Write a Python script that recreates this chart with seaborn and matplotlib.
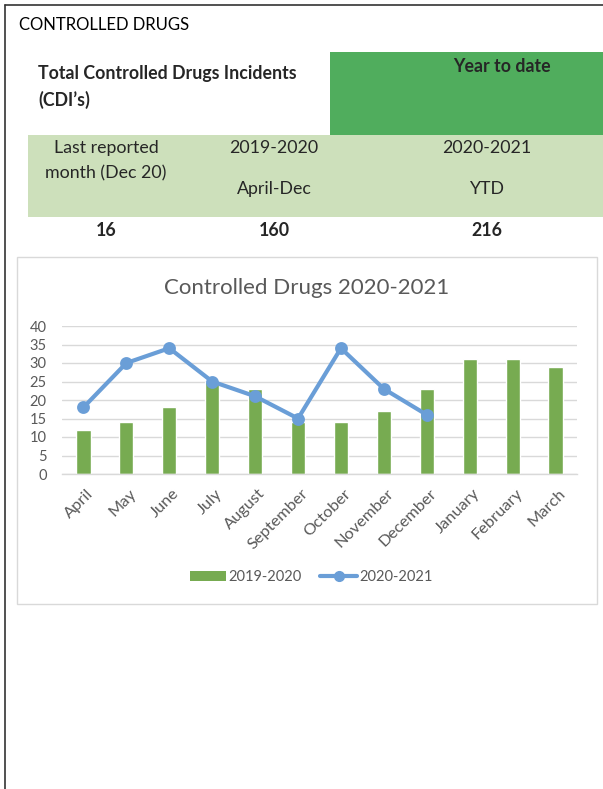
import matplotlib
matplotlib.use("Agg")
import matplotlib.pyplot as plt
import matplotlib.transforms as mtransforms
import seaborn as sns
import pandas as pd
from matplotlib.patches import Rectangle, Patch
from matplotlib.lines import Line2D

# ---- data -------------------------------------------------------------
months = ["April", "May", "June", "July", "August", "September",
          "October", "November", "December", "January", "February", "March"]
incidents_2019_20 = [12, 14, 18, 25, 23, 14, 14, 17, 23, 31, 31, 29]
incidents_2020_21 = [18, 30, 34, 25, 21, 15, 34, 23, 16]
series_names = ["2019-2020", "2020-2021"]
y_ticks = [0, 5, 10, 15, 20, 25, 30, 35, 40]
chart_title = "Controlled Drugs 2020-2021"

# headline figures for the summary table
last_month = incidents_2020_21[-1]
prev_ytd = sum(incidents_2019_20[:len(incidents_2020_21)])
curr_ytd = sum(incidents_2020_21)

# ---- styling ----------------------------------------------------------
sns.set_theme(style="white")
plt.rcParams["font.family"] = ["Lato", "DejaVu Sans"]

BAR = "#77AB51"
LINE = "#6A9ED7"
DARK_GREEN = "#50AD5D"
LIGHT_GREEN = "#CDE0BB"
GREY_TXT = "#595959"
GRID = "#D9D9D9"

W, H = 603, 789
fig = plt.figure(figsize=(W / 100, H / 100), dpi=100)


def fx(px):
    return px / W


def fy(py):
    return 1 - py / H


def box(x0, y0, x1, y1, **kw):
    fig.add_artist(Rectangle((fx(x0), fy(y1)), (x1 - x0) / W, (y1 - y0) / H,
                             transform=fig.transFigure, zorder=-1, **kw))


# page border (top and left)
fig.add_artist(Line2D([fx(5), fx(5)], [fy(5), fy(789)], transform=fig.transFigure,
                      color="#333333", lw=1.2))
fig.add_artist(Line2D([fx(5), fx(603)], [fy(5), fy(5)], transform=fig.transFigure,
                      color="#333333", lw=1.2))

# ---- summary table ----------------------------------------------------
box(330, 52, 603, 135, facecolor=DARK_GREEN, edgecolor="none")
box(28, 135, 603, 217, facecolor=LIGHT_GREEN, edgecolor="none")

HS = 12.8
fig.text(fx(19), fy(25), "CONTROLLED DRUGS", fontsize=12, va="center", color="black")
fig.text(fx(38), fy(73), "Total Controlled Drugs Incidents", fontsize=HS,
         fontweight="bold", va="center")
fig.text(fx(38), fy(100), "(CDI\u2019s)", fontsize=HS, fontweight="bold", va="center")
fig.text(fx(502), fy(66), "Year to date", fontsize=HS, fontweight="bold",
         ha="center", va="center")

fig.text(fx(106), fy(148), "Last reported", fontsize=HS, ha="center", va="center")
fig.text(fx(106), fy(173), "month (Dec 20)", fontsize=HS, ha="center", va="center")
fig.text(fx(274), fy(148), "2019-2020", fontsize=HS, ha="center", va="center")
fig.text(fx(274), fy(189), "April-Dec", fontsize=HS, ha="center", va="center")
fig.text(fx(487), fy(148), "2020-2021", fontsize=HS, ha="center", va="center")
fig.text(fx(487), fy(189), "YTD", fontsize=HS, ha="center", va="center")

for xc, val in [(106, last_month), (274, prev_ytd), (487, curr_ytd)]:
    fig.text(fx(xc), fy(230), str(val), fontsize=HS, fontweight="bold",
             ha="center", va="center")

# ---- chart ------------------------------------------------------------
box(17, 257, 597, 604, facecolor="white", edgecolor=GRID, lw=1)

fig.text(fx(307), fy(288), chart_title, fontsize=16, ha="center", va="center",
         color=GREY_TXT)

ax = fig.add_axes([fx(62), fy(474), (577 - 62) / W, (474 - 326) / H])
ax.set_zorder(2)
ax.set_facecolor("none")

sns.barplot(x=months, y=incidents_2019_20, color=BAR, saturation=1,
            width=0.33, ax=ax)

line_df = pd.DataFrame({"month": months[:len(incidents_2020_21)],
                        "count": incidents_2020_21})
sns.pointplot(data=line_df, x="month", y="count", order=months, color=LINE,
              errorbar=None, linewidth=3, markersize=7, ax=ax)

ax.set_xlim(-0.5, len(months) - 0.5)
ax.set_ylim(0, 40)
ax.set_yticks(y_ticks)
ax.set_xticks(range(len(months)))
ax.set_xticklabels(months, rotation=45, ha="right", rotation_mode="anchor")
ax.set_xlabel("")
ax.set_ylabel("")
ax.tick_params(axis="both", length=0, colors=GREY_TXT, labelsize=10.5)
ax.tick_params(axis="x", labelsize=11.8, pad=9)
ax.tick_params(axis="y", pad=11)

# nudge the slanted month names a little to the right of each bar
shift = mtransforms.ScaledTranslation(3 / 100, 0, fig.dpi_scale_trans)
for lbl in ax.get_xticklabels():
    lbl.set_transform(lbl.get_transform() + shift)

ax.yaxis.grid(True, color=GRID, lw=1)
ax.set_axisbelow(True)
for side in ["left", "right", "top"]:
    ax.spines[side].set_visible(False)
ax.spines["bottom"].set_color(GRID)
ax.spines["bottom"].set_linewidth(1)

handles = [Patch(facecolor=BAR, edgecolor="none"),
           Line2D([], [], color=LINE, lw=3, marker="o", markersize=7)]
fig.legend(handles, series_names, loc="center", bbox_to_anchor=(fx(311), fy(577)),
           ncol=2, frameon=False, fontsize=10.5, labelcolor=GREY_TXT,
           handlelength=2.5, handletextpad=0.15, columnspacing=1.3)

fig.savefig("out.png", dpi=100)
